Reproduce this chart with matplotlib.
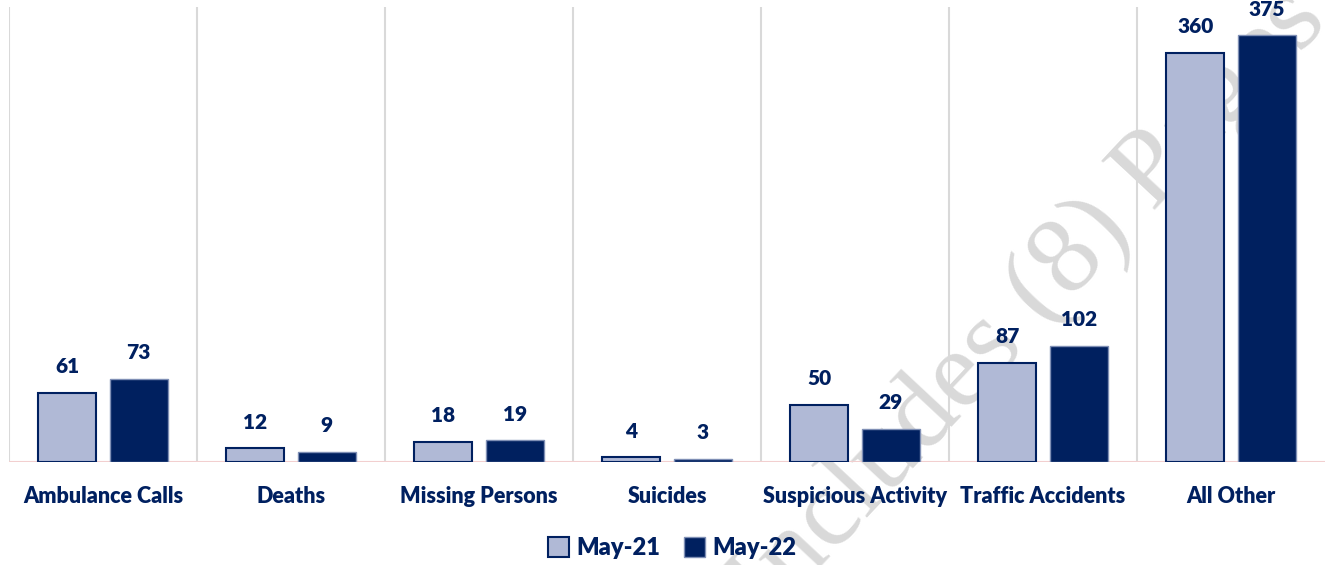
import matplotlib.pyplot as plt
import numpy as np
from matplotlib.patches import Patch

# データ
categories = ["Ambulance Calls", "Deaths", "Missing Persons", "Suicides",
              "Suspicious Activity", "Traffic Accidents", "All Other"]
may21 = [61, 12, 18, 4, 50, 87, 360]
may22 = [73, 9, 19, 3, 29, 102, 375]
series_names = ["May-21", "May-22"]

LIGHT = "#B0B9D6"
DARK = "#00205F"
NAVY = "#002060"

plt.rcParams['font.family'] = ['Lato', 'DejaVu Sans']

fig = plt.figure(figsize=(13.25, 5.65), dpi=100)
ax = fig.add_axes([9/1325, 103/565, 1 - 9/1325, 455/565])
ax.patch.set_alpha(0)

x = np.arange(len(categories))
w = 0.31
off = 0.19

b1 = ax.bar(x - off, may21, w, color=LIGHT, edgecolor=NAVY, linewidth=1.5, zorder=3)
b2 = ax.bar(x + off, may22, w, color=DARK, edgecolor="#7F8FB5", linewidth=1.0, zorder=3)

for bars, vals in ((b1, may21), (b2, may22)):
    for r, v in zip(bars, vals):
        ax.annotate(str(v), (r.get_x() + r.get_width()/2, v), xytext=(0, 12),
                    textcoords="offset points", ha="center", va="bottom",
                    fontsize=15, fontweight="heavy", color=NAVY, zorder=4)

# 区切り線
for b in np.arange(-0.5, len(categories) - 0.5, 1.0):
    ax.axvline(b, color="#D9D9D9", lw=1.5, zorder=1)
ax.axhline(0, color="#F2CFCF", lw=1.5, zorder=2)

ax.set_xlim(-0.5, len(categories) - 0.5)
ax.set_ylim(0, 400)
ax.set_yticks([])
ax.set_xticks(x)
ax.set_xticklabels(categories, fontsize=15.5, fontweight="heavy", color=NAVY)
ax.tick_params(axis="x", length=0, pad=17)
for s in ax.spines.values():
    s.set_visible(False)

# 透かし
fig.text(1030/1325, 1 - 305/565, "Includes (8) Pages", fontsize=80,
         family="Liberation Serif", color="#D9D9D9", rotation=47,
         ha="center", va="center", zorder=-1)

handles = [Patch(facecolor=LIGHT, edgecolor=NAVY, lw=1.5),
           Patch(facecolor=DARK, edgecolor="#7F8FB5", lw=1.0)]
fig.legend(handles, series_names, loc="center", bbox_to_anchor=(672/1325, 1 - 548/565),
           ncol=2, frameon=False, handlelength=0.9, handleheight=0.9,
           handletextpad=0.3, columnspacing=1.0,
           prop={"size": 17, "weight": "heavy"}, labelcolor=NAVY)

fig.savefig("out.png", dpi=100)
